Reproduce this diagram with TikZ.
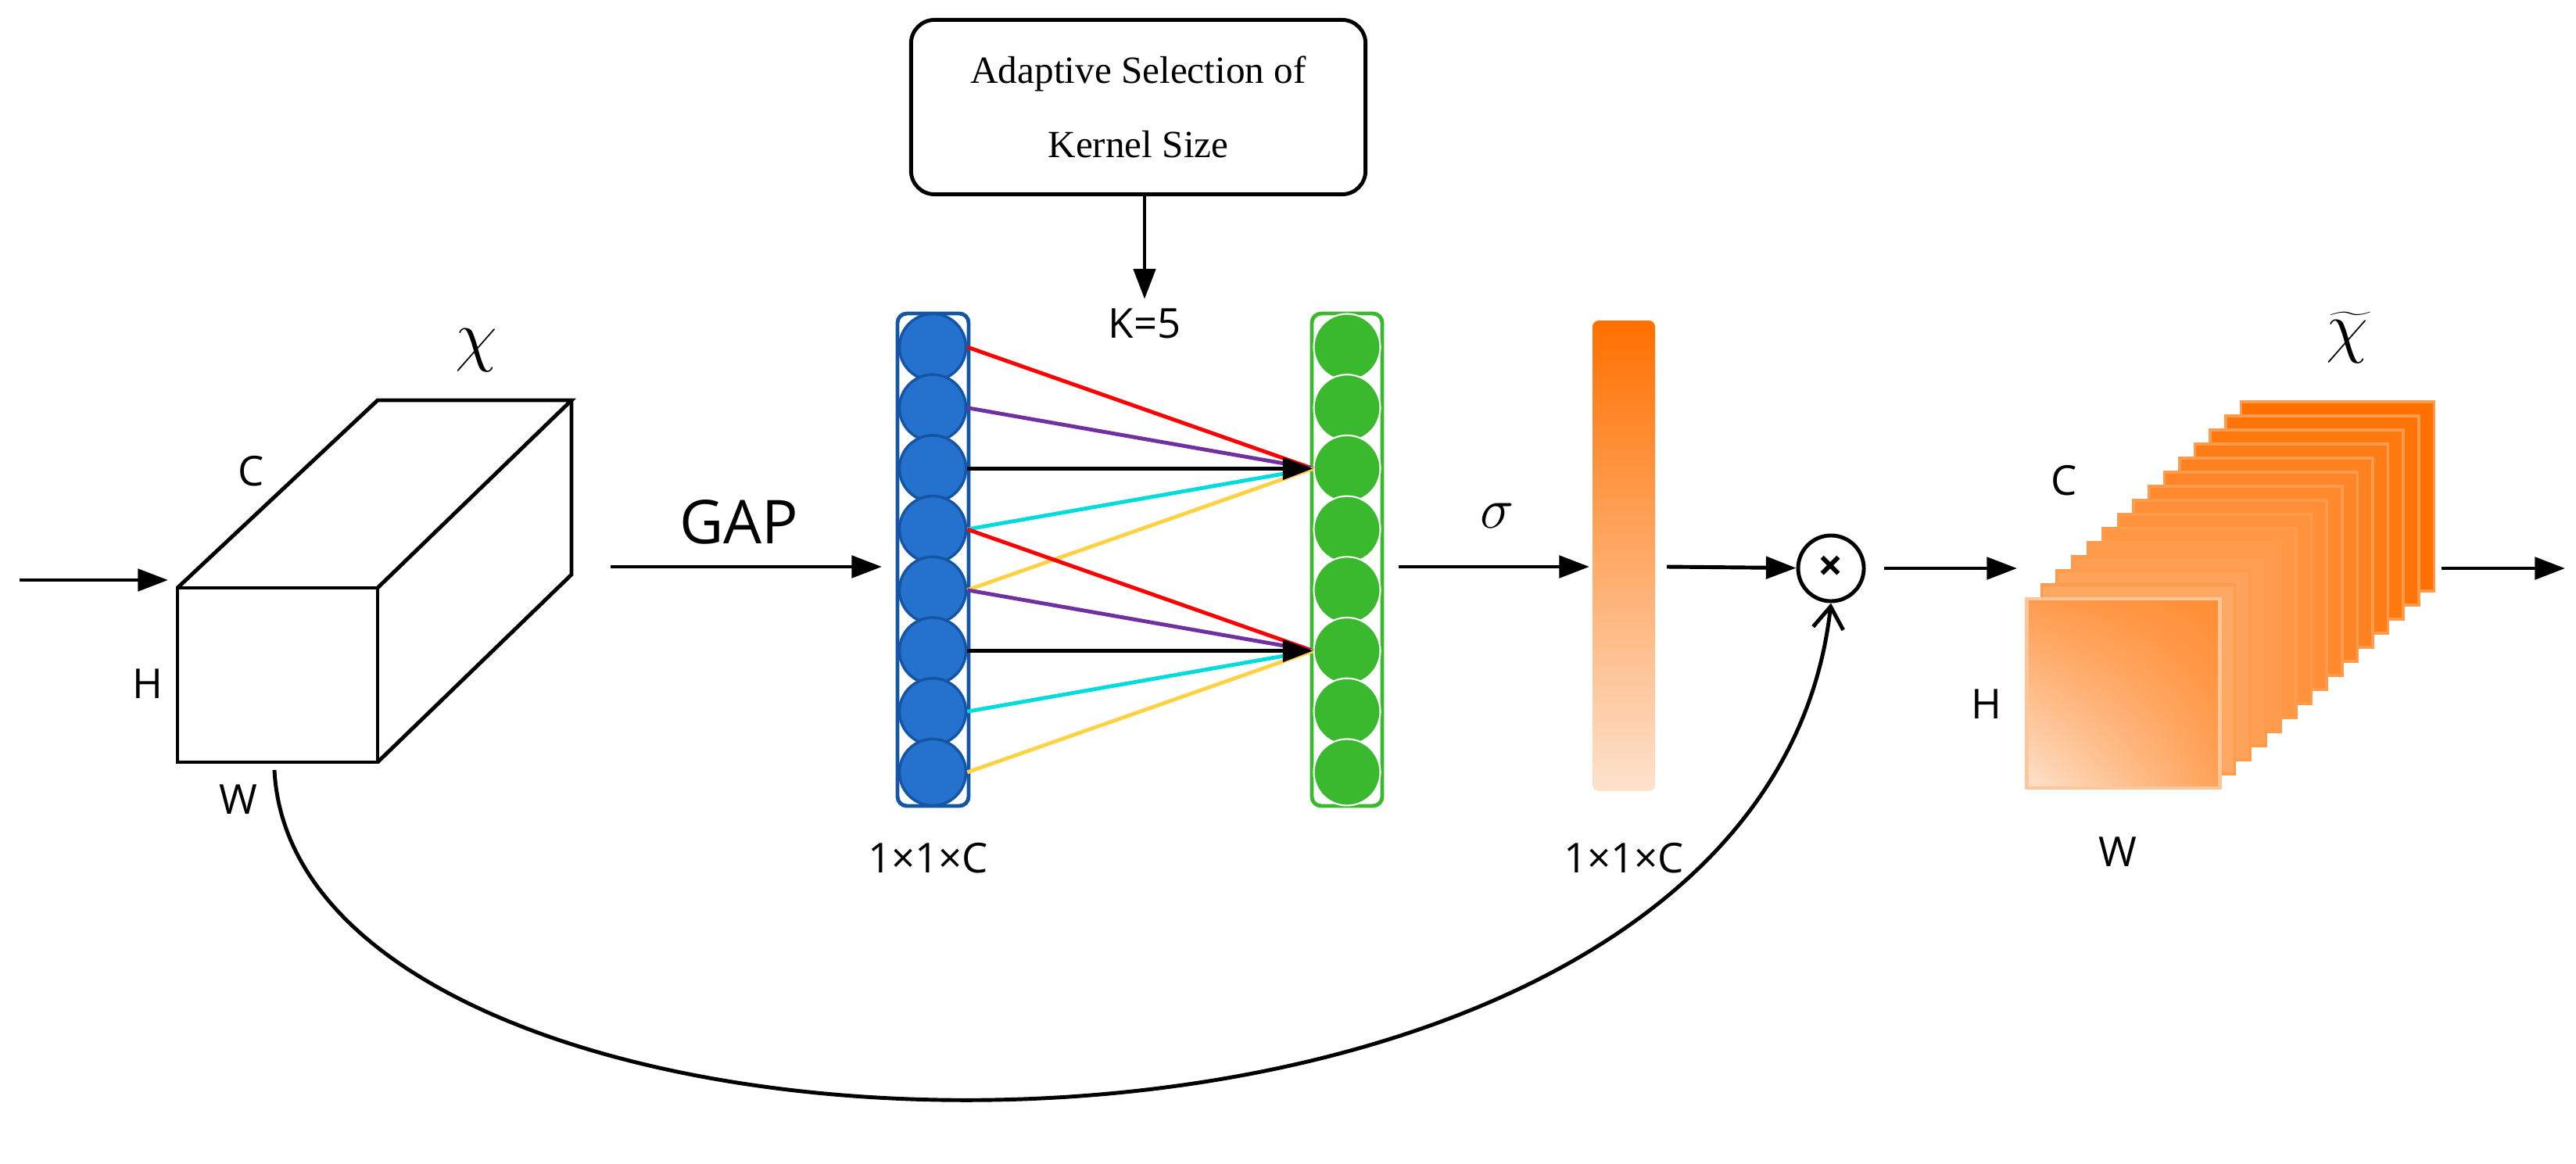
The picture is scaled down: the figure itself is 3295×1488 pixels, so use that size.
\documentclass[tikz,border=0pt]{standalone}
\usepackage{fontspec}
\setmainfont{Open Sans}
\newfontfamily\serifbox{Liberation Serif}
\usetikzlibrary{positioning,arrows.meta,shadings}
\definecolor{bluecell}{RGB}{36,113,206}
\definecolor{blueedge}{RGB}{20,85,165}
\definecolor{greencell}{RGB}{58,184,46}
\definecolor{orangeA}{RGB}{255,112,0}
\definecolor{orangeL}{RGB}{253,226,205}
\definecolor{linecyan}{RGB}{0,220,220}
\definecolor{lineyellow}{RGB}{255,210,70}
\definecolor{linepurple}{RGB}{112,48,160}
\tikzset{
  arr/.style={-{Triangle[length=11pt,width=8pt]},line width=1.4pt},
  conn/.style={line width=1.4pt},
  lbl/.style={font=\fontsize{15}{18}\selectfont},
  bcell/.style={circle,fill=bluecell,draw=blueedge,line width=1pt,minimum size=0.85cm,inner sep=0},
  gcell/.style={circle,fill=greencell,draw=white,line width=0.6pt,minimum size=0.85cm,inner sep=0}
}
\begin{document}
\begin{tikzpicture}[x=0.01cm,y=-0.01cm]
  \useasboundingbox (0,0) rectangle (3295,1488);

  % input cube
  \draw[line width=1.4pt,fill=white] (227,752) rectangle (483,975);
  \draw[line width=1.4pt] (227,752) -- (483,512) -- (731,512) -- (483,752);
  \draw[line width=1.4pt] (483,975) -- (731,735) -- (731,512);
  \node at (609,448) (chi) {\fontsize{24}{28}\selectfont$\chi$};
  \node[lbl] at (321,603) (cC) {C};
  \node[lbl] at (189,875) (cH) {H};
  \node[lbl] at (305,1023) (cW) {W};
  \coordinate (in) at (25,742);
  \coordinate (cubeL) at (215,742);
  \draw[arr] (in) -- (cubeL);

  % GAP
  \coordinate (gapS) at (781,725);
  \coordinate (gapE) at (1128,725);
  \draw[arr] (gapS) -- (gapE);
  \node at (945,668) (gap) {\fontsize{22}{26}\selectfont GAP};

  % blue column
  \draw[blueedge,line width=1.4pt,rounded corners=0.12cm] (1148,401) rectangle (1239,1031);
  \foreach \i in {1,...,8}
    \node[bcell] (b\i) at (1193,{444+(\i-1)*77.7}) {};
  \node[lbl] at (1187,1098) (s1) {1×1×C};

  % green column
  \draw[greencell,line width=1.4pt,rounded corners=0.12cm] (1678,401) rectangle (1768,1031);
  \foreach \i in {1,...,8}
    \node[gcell] (g\i) at (1723,{444+(\i-1)*77.7}) {};

  % kernel box
  \node[draw,line width=1.4pt,rounded corners=0.3cm,minimum width=5.81cm,minimum height=2.23cm,align=center,
        font=\serifbox\fontsize{14}{27}\selectfont] (ksel) at (1456,137)
        {Adaptive Selection of\\Kernel Size};
  \node[lbl] at (1464,414) (k5) {K=5};
  \draw[arr] (k5.north |- ksel.south) -- (k5.north);

  % 1D conv connections
  \draw[conn,red] (b1.east) -- (g3.west);
  \draw[conn,linepurple] (b2.east) -- (g3.west);
  \draw[conn,linecyan] (b4.east) -- (g3.west);
  \draw[conn,lineyellow] (b5.east) -- (g3.west);
  \draw[arr] (b3.east) -- (g3.west);
  \draw[conn,red] (b4.east) -- (g6.west);
  \draw[conn,linepurple] (b5.east) -- (g6.west);
  \draw[conn,linecyan] (b7.east) -- (g6.west);
  \draw[conn,lineyellow] (b8.east) -- (g6.west);
  \draw[arr] (b6.east) -- (g6.west);

  % sigma and weights
  \coordinate (sgS) at (1789,725);
  \coordinate (sgE) at (2033,725);
  \draw[arr] (sgS) -- (sgE);
  \node at (1915,660) (sig) {\fontsize{20}{24}\selectfont$\sigma$};
  \shade[top color=orangeA,middle color=orangeA!80,bottom color=orangeL,rounded corners=0.08cm]
    (2037,410) rectangle (2117,1012);
  \node[lbl] at (2077,1098) (s2) {1×1×C};
  \coordinate (wE) at (2132,725);

  % multiply
  \node[circle,draw,line width=1.4pt,minimum size=0.84cm,inner sep=0] (mul) at (2342,727)
    {\fontsize{16}{16}\selectfont\bfseries×};
  \draw[arr] (wE) -- (mul);
  \coordinate (outS) at (2410,727);
  \coordinate (stackL) at (2580,727);
  \draw[arr] (outS) -- (stackL);
  \draw[-{Straight Barb[length=8pt,width=11pt]},line width=1.4pt] (351,985)
    .. controls (380,1560) and (2250,1600) .. (mul.south);

  % output stack
  \foreach \i in {14,13,...,1}
    \fill[orangeA!\the\numexpr 58+3*\i\relax!white,draw=orangeA!70,line width=1pt]
      ({2592+19.6*\i},{766-18*\i}) rectangle ({2839+19.6*\i},{1008-18*\i});
  \shade[lower left=orangeL,upper right=orangeA!80,lower right=orangeA!65,upper left=orangeA!70]
    (2592,766) rectangle (2839,1008);
  \draw[orangeA!40,line width=1.4pt] (2592,766) rectangle (2839,1008);
  \node at (3002,432) (chit) {\fontsize{24}{28}\selectfont$\widetilde{\chi}$};
  \node[lbl] at (2640,615) (sC) {C};
  \node[lbl] at (2541,901) (sH) {H};
  \node[lbl] at (2709,1090) (sW) {W};
  \coordinate (fS) at (3123,727);
  \coordinate (fE) at (3281,727);
  \draw[arr] (fS) -- (fE);
\end{tikzpicture}
\end{document}
